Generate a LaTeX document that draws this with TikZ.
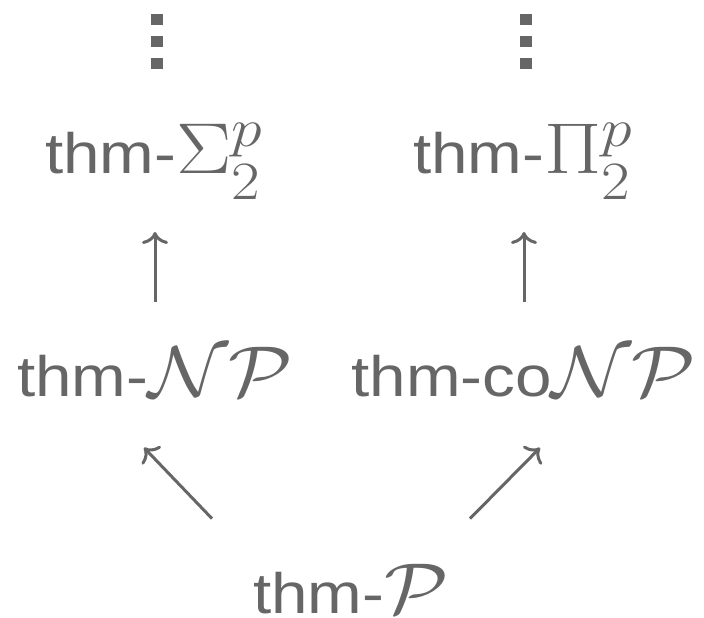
\documentclass[tikz,border=0pt]{standalone}
\usepackage{fix-cm}
\usepackage{fontspec}
\usepackage{graphicx}
\usepackage{tikz}
\usetikzlibrary{arrows.meta,calc}
\newfontfamily\thmfont{Liberation Sans}
\definecolor{thmgray}{RGB}{102,102,102}
\DeclareMathSizes{72}{72}{54}{40}
\newcommand{\thmtxt}{\fontsize{57}{60}\selectfont\thmfont}
\newcommand{\thmmath}[1]{{\fontsize{72}{80}\selectfont$#1$}}
\newcommand{\thmlbl}[1]{\scalebox{1.15}[1]{\thmtxt #1}}
\newcommand{\lowsub}{\raisebox{-9pt}{$\scriptstyle 2$}}

\begin{document}
\begin{tikzpicture}[x=1pt, y=-1pt,
  lbl/.style={text=thmgray, inner sep=0pt, anchor=base},
  arr/.style={-{Computer Modern Rightarrow[length=12pt,width=26pt]}, line width=3pt, draw=thmgray},
  vdots/.style={draw=thmgray, line width=12pt, dash pattern=on 11pt off 11pt}]
\useasboundingbox (0,0) rectangle (704,618);
\node[lbl] (sig) at (154,173) {\thmlbl{thm-\thmmath{\Sigma^p_{\lowsub}}}};
\node[lbl] (pi) at (523,173) {\thmlbl{thm-\thmmath{\Pi^p_{\lowsub}}}};
\node[lbl] (np) at (155,396) {\thmlbl{thm-\thmmath{\mathcal{N}\mathcal{P}}}};
\node[lbl] (conp) at (524,396) {\thmlbl{thm-co\thmmath{\mathcal{N}\mathcal{P}}}};
\node[lbl] (p) at (351,613) {\thmlbl{thm-\thmmath{\mathcal{P}}}};
% dots above the top row
\draw[vdots] ($(sig.north)+(3,-109)$) -- ++(0,55);
\draw[vdots] ($(pi.north)+(3,-109)$) -- ++(0,55);
% arrows
\draw[arr, shorten <=45pt, shorten >=32pt] (np.north) -- (np.north |- sig.south);
\draw[arr, shorten <=45pt, shorten >=32pt] (conp.north) -- (conp.north |- pi.south);
\draw[arr] ($(p.north)+(-139,-45)$) -- ($(np.south)+(-11,51)$);
\draw[arr] ($(p.north)+(119,-45)$) -- ($(conp.south)+(16,51)$);
\end{tikzpicture}
\end{document}
